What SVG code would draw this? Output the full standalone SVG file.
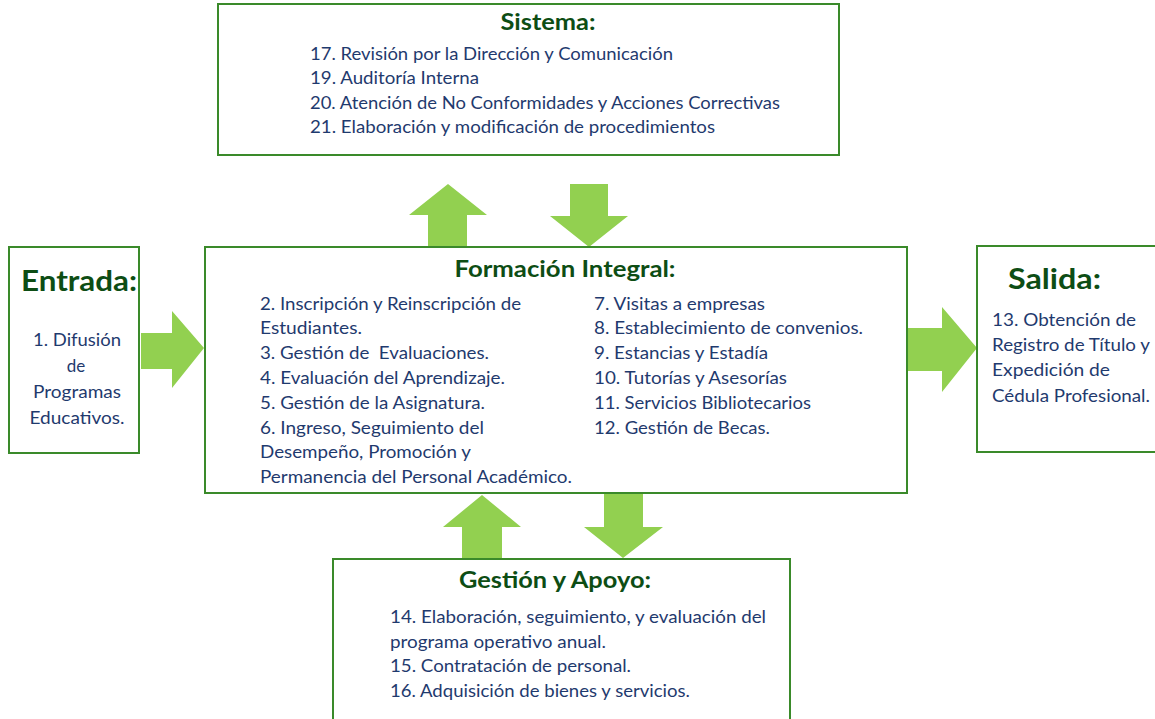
<svg xmlns="http://www.w3.org/2000/svg" width="1155" height="719" viewBox="0 0 1155 719">
<style>
.box{fill:#fff;stroke:#3a8a2a;stroke-width:2}
.arr{fill:#92d050}
.t{font-family:Lato,"Open Sans",sans-serif;font-weight:bold;fill:#0d4d14}
.x{font-family:Lato,"Open Sans",sans-serif;font-size:17px;fill:#1f3a6e}
</style>
<rect width="1155" height="719" fill="#fff"/>
<g id="connectors">
<polygon class="arr" points="428,247 428,215 409,215 448,184 487,215 467,215 467,247"/>
<polygon class="arr" points="570,184 608,184 608,216 628,216 589,247 550,216 570,216"/>
<polygon class="arr" points="141,333 172,333 172,311 204,348 172,388 172,369 141,369"/>
<polygon class="arr" points="907,328 942,328 942,307 977,348 942,392 942,371 907,371"/>
<polygon class="arr" points="462,559 462,527 443,527 482,495 521,527 502,527 502,559"/>
<polygon class="arr" points="604,493 643,493 643,527 663,527 623,558 584,527 604,527"/>
</g>
<g id="sistema">
<rect class="box" x="218" y="4" width="621" height="151"/>
<text class="t" x="548" y="30" font-size="23" text-anchor="middle" textLength="95" lengthAdjust="spacingAndGlyphs">Sistema:</text>
<text class="x" x="310" y="60" textLength="363" lengthAdjust="spacingAndGlyphs">17. Revisión por la Dirección y Comunicación</text>
<text class="x" x="310" y="84" textLength="169" lengthAdjust="spacingAndGlyphs">19. Auditoría Interna</text>
<text class="x" x="310" y="109" textLength="470" lengthAdjust="spacingAndGlyphs">20. Atención de No Conformidades y Acciones Correctivas</text>
<text class="x" x="310" y="133" textLength="405" lengthAdjust="spacingAndGlyphs">21. Elaboración y modificación de procedimientos</text>
</g>
<g id="entrada">
<rect class="box" x="9" y="247" width="130" height="206"/>
<text class="t" x="79" y="291" font-size="28" text-anchor="middle" textLength="116" lengthAdjust="spacingAndGlyphs">Entrada:</text>
<text class="x" x="77" y="346" text-anchor="middle" textLength="88" lengthAdjust="spacingAndGlyphs">1. Difusión</text>
<text class="x" x="76" y="372" text-anchor="middle">de</text>
<text class="x" x="77" y="398" text-anchor="middle" textLength="88" lengthAdjust="spacingAndGlyphs">Programas</text>
<text class="x" x="77" y="424" text-anchor="middle" textLength="95" lengthAdjust="spacingAndGlyphs">Educativos.</text>
</g>
<g id="formacion">
<rect class="box" x="205" y="247" width="702" height="246"/>
<text class="t" x="565" y="277" font-size="22" text-anchor="middle" textLength="221" lengthAdjust="spacingAndGlyphs">Formación Integral:</text>
<text class="x" x="260" y="310" textLength="261" lengthAdjust="spacingAndGlyphs">2. Inscripción y Reinscripción de</text>
<text class="x" x="260" y="334" textLength="102" lengthAdjust="spacingAndGlyphs">Estudiantes.</text>
<text class="x" x="260" y="359" textLength="229" lengthAdjust="spacingAndGlyphs" xml:space="preserve">3. Gestión de  Evaluaciones.</text>
<text class="x" x="260" y="384" textLength="245" lengthAdjust="spacingAndGlyphs">4. Evaluación del Aprendizaje.</text>
<text class="x" x="260" y="409" textLength="225" lengthAdjust="spacingAndGlyphs">5. Gestión de la Asignatura.</text>
<text class="x" x="260" y="434" textLength="224" lengthAdjust="spacingAndGlyphs">6. Ingreso, Seguimiento del</text>
<text class="x" x="260" y="458" textLength="211" lengthAdjust="spacingAndGlyphs">Desempeño, Promoción y</text>
<text class="x" x="260" y="483" textLength="312" lengthAdjust="spacingAndGlyphs">Permanencia del Personal Académico.</text>
<text class="x" x="594" y="310" textLength="171" lengthAdjust="spacingAndGlyphs">7. Visitas a empresas</text>
<text class="x" x="594" y="334" textLength="269" lengthAdjust="spacingAndGlyphs">8. Establecimiento de convenios.</text>
<text class="x" x="594" y="359" textLength="174" lengthAdjust="spacingAndGlyphs">9. Estancias y Estadía</text>
<text class="x" x="594" y="384" textLength="193" lengthAdjust="spacingAndGlyphs">10. Tutorías y Asesorías</text>
<text class="x" x="594" y="409" textLength="217" lengthAdjust="spacingAndGlyphs">11. Servicios Bibliotecarios</text>
<text class="x" x="594" y="434" textLength="176" lengthAdjust="spacingAndGlyphs">12. Gestión de Becas.</text>
</g>
<g id="salida">
<rect class="box" x="977" y="246" width="190" height="206"/>
<text class="t" x="1008" y="289" font-size="28" textLength="93" lengthAdjust="spacingAndGlyphs">Salida:</text>
<text class="x" x="992" y="326" textLength="144" lengthAdjust="spacingAndGlyphs">13. Obtención de</text>
<text class="x" x="992" y="351" textLength="158" lengthAdjust="spacingAndGlyphs">Registro de Título y</text>
<text class="x" x="992" y="376" textLength="118" lengthAdjust="spacingAndGlyphs">Expedición de</text>
<text class="x" x="992" y="402" textLength="158" lengthAdjust="spacingAndGlyphs">Cédula Profesional.</text>
</g>
<g id="gestion">
<rect class="box" x="333" y="559" width="457" height="175"/>
<text class="t" x="555" y="588" font-size="22" text-anchor="middle" textLength="192" lengthAdjust="spacingAndGlyphs">Gestión y Apoyo:</text>
<text class="x" x="390" y="623" textLength="376" lengthAdjust="spacingAndGlyphs">14. Elaboración, seguimiento, y evaluación del</text>
<text class="x" x="390" y="648" textLength="216" lengthAdjust="spacingAndGlyphs">programa operativo anual.</text>
<text class="x" x="390" y="672" textLength="241" lengthAdjust="spacingAndGlyphs">15. Contratación de personal.</text>
<text class="x" x="390" y="697" textLength="300" lengthAdjust="spacingAndGlyphs">16. Adquisición de bienes y servicios.</text>
</g>
</svg>
